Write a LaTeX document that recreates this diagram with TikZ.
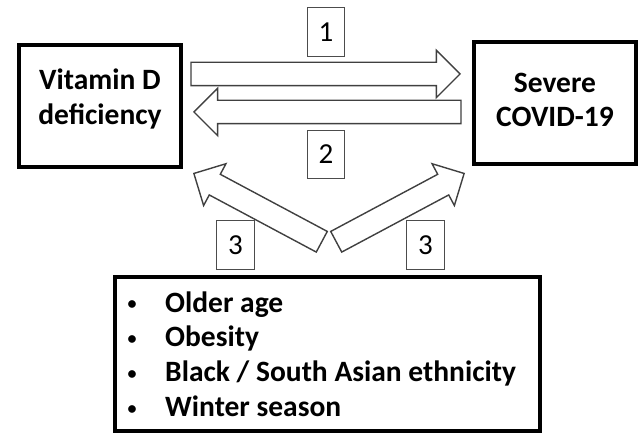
\documentclass[tikz,border=0pt]{standalone}
\usepackage{fontspec}
\setmainfont{Carlito}
\usetikzlibrary{shapes.arrows}
\begin{document}
\begin{tikzpicture}[x=1pt,y=-1pt,
  bigbox/.style={draw=black, line width=4pt, inner sep=0pt},
  boxtext/.style={inner sep=0pt, anchor=base, font=\bfseries\fontsize{29.5}{35}\selectfont},
  numbox/.style={draw=black!70, line width=1.3pt, minimum width=37.5pt,
    minimum height=48.5pt, inner sep=0pt, font=\fontsize{29}{32}\selectfont},
  blockarrow/.style={single arrow, draw=black!75, line width=1.4pt, fill=white,
    inner sep=11pt, single arrow head extend=12pt, single arrow tip angle=90, anchor=tip},
  itemtext/.style={inner sep=0pt, anchor=base west, font=\bfseries\fontsize{29.5}{35}\selectfont},
  bullet/.style={inner sep=0pt, anchor=base, font=\bfseries\fontsize{18}{20}\selectfont}]
\path[use as bounding box] (0,0) rectangle (641,435);

% main boxes
\node[bigbox, minimum width=162pt, minimum height=122pt] (vitd) at (100,106) {};
\node[boxtext] (vitd1) at (100,90) {Vitamin D};
\node[boxtext] (vitd2) at (100,125) {deficiency};
\node[bigbox, minimum width=162pt, minimum height=122pt] (covid) at (555,103) {};
\node[boxtext] (covid1) at (555,93) {Severe};
\node[boxtext] (covid2) at (555,127) {COVID-19};
\node[bigbox, minimum width=425pt, minimum height=154pt] (risk) at (327.5,354) {};

% block arrows
\node[blockarrow, minimum height=269pt] (a1) at (461,74) {};
\node[blockarrow, minimum height=267pt, rotate=180] (a2) at (193,112) {};
\node[blockarrow, minimum height=145pt, rotate=151.9] (a3l) at (193,173) {};
\node[blockarrow, minimum height=145pt, rotate=28.1] (a3r) at (465,173) {};

% number boxes
\node[numbox] (n1) at (326,32) {1};
\node[numbox] (n2) at (326,154.5) {2};
\node[numbox] (n3l) at (235.5,245) {3};
\node[numbox] (n3r) at (425.5,245) {3};

% list
\node[bullet] (b1) at (132,309.7) {•};
\node[bullet] (b2) at (132,344.2) {•};
\node[bullet] (b3) at (132,379.2) {•};
\node[bullet] (b4) at (132,414.2) {•};
\node[itemtext] (i1) at (165,312.3) {Older age};
\node[itemtext] (i2) at (165,346.8) {Obesity};
\node[itemtext] (i3) at (165,381.8) {Black / South Asian ethnicity};
\node[itemtext] (i4) at (165,416.8) {Winter season};
\end{tikzpicture}
\end{document}
